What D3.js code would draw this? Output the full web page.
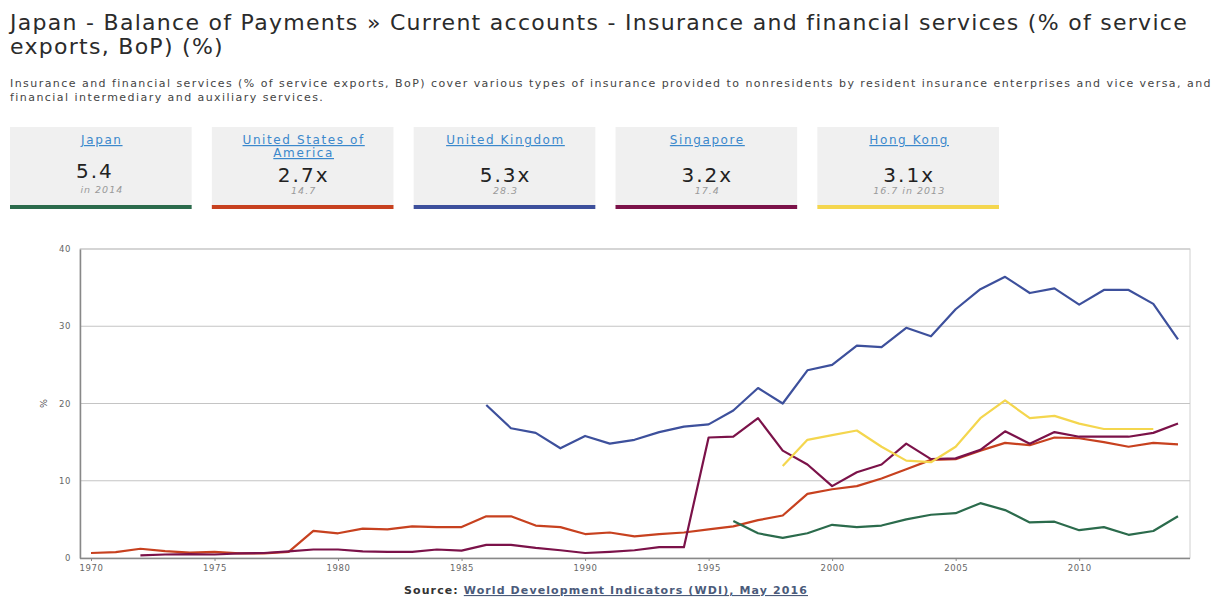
<!DOCTYPE html>
<html><head><meta charset="utf-8">
<script src="https://cdn.jsdelivr.net/npm/d3@7"></script>
<style>
body{margin:0;background:#fff;}
svg{display:block;}
</style></head>
<body>
<svg id="c" width="1215" height="597"></svg>
<script>
const years = d3.range(1970, 2015);
const countries = ["Japan", "United States of America", "United Kingdom", "Singapore", "Hong Kong"];
const colors = ["#2b6b4c", "#c7411f", "#3d509c", "#7b1249", "#f4d64e"];
const cardValues = ["5.4", "2.7x", "5.3x", "3.2x", "3.1x"];
const cardSubs = ["in 2014", "14.7", "28.3", "17.4", "16.7 in 2013"];
const yTicks = [0, 10, 20, 30, 40];
const xTicks = [1970, 1975, 1980, 1985, 1990, 1995, 2000, 2005, 2010];

// values by year (null = no data)
const japan = [null,null,null,null,null,null,null,null,null,null,
  null,null,null,null,null,null,null,null,null,null,
  null,null,null,null,null,null,4.8,3.2,2.6,3.2,
  4.3,4.0,4.2,5.0,5.6,5.8,7.1,6.2,4.6,4.7,
  3.6,4.0,3.0,3.5,5.4];
const usa = [0.65,0.75,1.2,0.9,0.7,0.8,0.6,0.6,0.8,3.5,
  3.2,3.8,3.7,4.1,4.0,4.0,5.4,5.4,4.2,4.0,
  3.1,3.3,2.8,3.1,3.3,3.7,4.1,4.9,5.5,8.3,
  8.9,9.3,10.3,11.5,12.7,12.8,13.9,14.9,14.6,15.6,
  15.5,15.0,14.4,14.9,14.7];
const uk = [null,null,null,null,null,null,null,null,null,null,
  null,null,null,null,null,null,19.8,16.8,16.2,14.2,
  15.8,14.8,15.3,16.3,17.0,17.3,19.1,22.0,20.0,24.3,
  25.0,27.5,27.3,29.8,28.7,32.2,34.8,36.4,34.3,34.9,
  32.8,34.7,34.7,32.9,28.3];
const singapore = [null,null,0.35,0.45,0.5,0.45,0.6,0.65,0.85,1.1,
  1.1,0.85,0.8,0.8,1.1,0.95,1.7,1.7,1.3,1.0,
  0.65,0.8,1.0,1.4,1.4,15.6,15.7,18.1,13.9,12.1,
  9.3,11.1,12.1,14.8,12.8,12.9,14.0,16.4,14.8,16.3,
  15.7,15.7,15.7,16.2,17.4];
const hongkong = [null,null,null,null,null,null,null,null,null,null,
  null,null,null,null,null,null,null,null,null,null,
  null,null,null,null,null,null,null,null,11.9,15.3,
  15.9,16.5,14.4,12.6,12.4,14.4,18.1,20.4,18.1,18.4,
  17.4,16.7,16.7,16.7,null];
const series = [japan, usa, uk, singapore, hongkong];

const svg = d3.select("#c");
const font = "'DejaVu Sans', Verdana, sans-serif";

// stretch text to a target width by letter-spacing; returns the spacing used
function fitWidth(sel, w) {
  const node = sel.node();
  const nat = node.getComputedTextLength();
  const n = node.textContent.length;
  const ls = (w - nat) / n;
  sel.attr("letter-spacing", ls);
  return ls;
}

// Title
const t1 = svg.append("text").attr("x", 10).attr("y", 30)
  .attr("font-family", font).attr("font-size", 22).attr("fill", "#2b2b2b")
  .text("Japan - Balance of Payments \u00bb Current accounts - Insurance and financial services (% of service");
const tls = fitWidth(t1, 1178);
svg.append("text").attr("x", 10).attr("y", 54)
  .attr("font-family", font).attr("font-size", 22).attr("fill", "#2b2b2b").attr("letter-spacing", tls)
  .text("exports, BoP) (%)");

const d1 = svg.append("text").attr("x", 10).attr("y", 87)
  .attr("font-family", font).attr("font-size", 11).attr("fill", "#444")
  .text("Insurance and financial services (% of service exports, BoP) cover various types of insurance provided to nonresidents by resident insurance enterprises and vice versa, and");
const dls = fitWidth(d1, 1202);
svg.append("text").attr("x", 10).attr("y", 101)
  .attr("font-family", font).attr("font-size", 11).attr("fill", "#444").attr("letter-spacing", dls)
  .text("financial intermediary and auxiliary services.");

// Cards
const cardX = d3.scaleBand().domain(countries).range([10, 999]).paddingInner(0.1);
const cards = svg.selectAll("g.card").data(countries).join("g").attr("class", "card")
  .attr("transform", d => `translate(${cardX(d)},127)`);
const cw = cardX.bandwidth();
cards.append("rect").attr("width", cw).attr("height", 79).attr("fill", "#f0f0f0");
cards.append("rect").attr("y", 78).attr("width", cw).attr("height", 4).attr("fill", (d, i) => colors[i]);
cards.each(function(d, i) {
  const g = d3.select(this);
  const lines = d === "United States of America" ? ["United States of", "America"] : [d];
  lines.forEach((ln, j) => {
    g.append("text").attr("x", cw / 2 + 1).attr("y", 17 + j * 13).attr("text-anchor", "middle")
      .attr("font-family", font).attr("font-size", 12).attr("letter-spacing", 1.6).attr("fill", "#3b88cc")
      .attr("text-decoration", "underline").text(ln);
  });
  const hasX = cardValues[i].endsWith("x");
  g.append("text").attr("x", cw / 2 + 1 - (hasX ? 0 : 7)).attr("y", hasX ? 55 : 51).attr("text-anchor", "middle")
    .attr("font-family", font).attr("font-size", 20).attr("letter-spacing", 2).attr("fill", "#222").text(cardValues[i]);
  g.append("text").attr("x", cw / 2 + 1).attr("y", hasX ? 67 : 66).attr("text-anchor", "middle")
    .attr("font-family", font).attr("font-size", 9.5).attr("letter-spacing", 1).attr("font-style", "italic")
    .attr("fill", "#9a9a9a").text(cardSubs[i]);
});

// Chart
const pLeft = 80, pRight = 1190, pTop = 249, pBottom = 558;
const x = d3.scaleLinear().domain([1970, 2014]).range([91, 1178]);
const y = d3.scaleLinear().domain([0, 40]).range([pBottom, pTop]);

svg.append("rect").attr("x", pLeft).attr("y", pTop).attr("width", pRight - pLeft).attr("height", pBottom - pTop)
  .attr("fill", "none").attr("stroke", "#d0d0d0").attr("stroke-width", 1);

svg.append("g").selectAll("line").data(yTicks.filter(v => v > 0)).join("line")
  .attr("x1", pLeft).attr("x2", pRight).attr("y1", d => y(d)).attr("y2", d => y(d))
  .attr("stroke", "#c4c4c4").attr("stroke-width", 1.2);

const yAxis = svg.append("g").attr("transform", `translate(${pLeft},0)`)
  .call(d3.axisLeft(y).tickValues(yTicks).tickSize(0).tickPadding(9));
yAxis.select(".domain").attr("stroke", "#888").attr("stroke-width", 1.5);
yAxis.selectAll("text").attr("font-family", font).attr("font-size", 8.5).attr("letter-spacing", 0.6).attr("fill", "#666");

const xAxis = svg.append("g").attr("transform", `translate(0,${pBottom})`)
  .call(d3.axisBottom(x).tickValues(xTicks).tickFormat(d3.format("d")).tickSize(3).tickSizeOuter(0).tickPadding(4));
xAxis.select(".domain").attr("d", `M${pLeft},0.5H${pRight}`).attr("stroke", "#888").attr("stroke-width", 1.5);
xAxis.selectAll(".tick line").attr("stroke", "#888");
xAxis.selectAll("text").attr("font-family", font).attr("font-size", 8.5).attr("letter-spacing", 0.6).attr("fill", "#666");

svg.append("text").attr("transform", `translate(44,${y(20)}) rotate(-90)`).attr("text-anchor", "middle")
  .attr("dy", "0.35em").attr("font-family", font).attr("font-size", 9.5).attr("fill", "#555").text("%");

const line = d3.line().defined(d => d[1] !== null).x(d => x(d[0])).y(d => y(d[1]));
const order = [1, 3, 0, 4, 2];
svg.append("g").selectAll("path").data(order).join("path")
  .attr("d", i => line(years.map((yr, k) => [yr, series[i][k]])))
  .attr("fill", "none").attr("stroke", i => colors[i]).attr("stroke-width", 2.2)
  .attr("stroke-linejoin", "round");

// Source
const src = svg.append("text").attr("x", 404).attr("y", 594)
  .attr("font-family", font).attr("font-size", 11).attr("font-weight", "bold");
src.append("tspan").attr("fill", "#333").text("Source: ");
src.append("tspan").attr("fill", "#4a5a7a").attr("text-decoration", "underline")
  .text("World Development Indicators (WDI), May 2016");
fitWidth(src, 404);
</script>
</body></html>
